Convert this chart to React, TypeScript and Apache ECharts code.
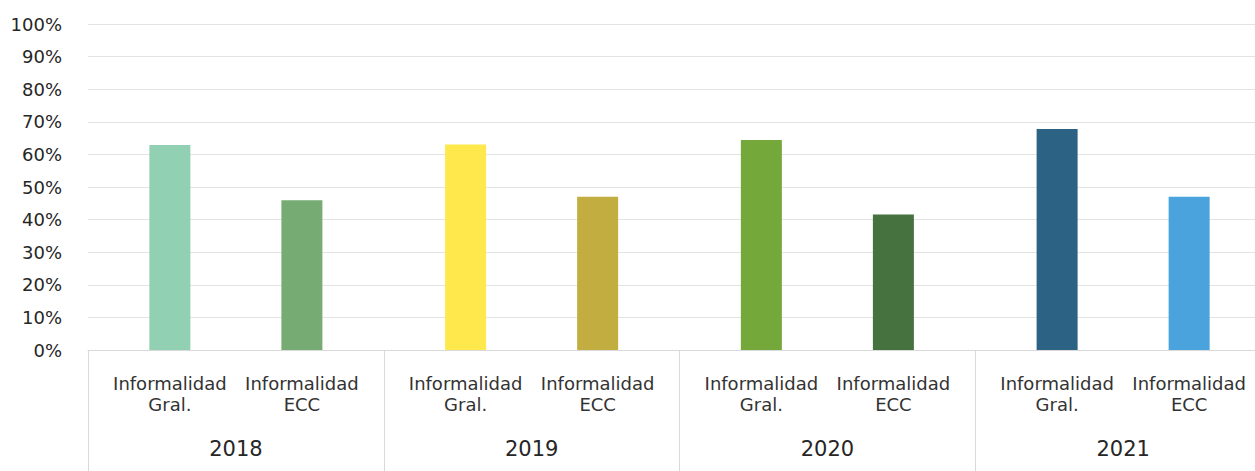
import React, { useEffect, useRef } from "react";
import * as echarts from "echarts";

const years = ["2018", "2019", "2020", "2021"];
const gralValues = [0.629, 0.63, 0.644, 0.678];
const eccValues = [0.459, 0.47, 0.416, 0.47];
const gralColors = ["#92d0b3", "#ffe84c", "#74a83b", "#2c6384"];
const eccColors = ["#76ab73", "#c2ae40", "#45723e", "#4aa3dc"];
const gralLabel = "Informalidad\nGral.";
const eccLabel = "Informalidad\nECC";
const yTicks = [0, 0.1, 0.2, 0.3, 0.4, 0.5, 0.6, 0.7, 0.8, 0.9, 1];

const FONT = "'DejaVu Sans', sans-serif";

export default function App() {
  const ref = useRef<HTMLDivElement>(null);
  useEffect(() => {
    if (!ref.current) return;
    const chart = echarts.init(ref.current, undefined, { renderer: "svg" });
    const subLabel = (text: string) => ({
      show: true,
      position: "bottom",
      distance: 23,
      formatter: text,
      fontFamily: FONT,
      fontSize: 18,
      lineHeight: 21,
      color: "#333333",
      align: "center",
    });
    chart.setOption({
      animation: false,
      grid: { left: 88, top: 24, right: 0, bottom: 121, containLabel: false },
      xAxis: {
        type: "category",
        data: years,
        boundaryGap: true,
        axisLine: { show: true, lineStyle: { color: "#d9d9d9", width: 1 } },
        axisTick: { show: true, interval: 0, length: 121, lineStyle: { color: "#d9d9d9" } },
        axisLabel: {
          interval: 0,
          margin: 88,
          fontFamily: FONT,
          fontSize: 21,
          color: "#262626",
        },
      },
      yAxis: {
        type: "value",
        min: 0,
        max: 1,
        interval: 0.1,
        axisLine: { show: false },
        axisTick: { show: false },
        splitLine: { lineStyle: { color: "#e3e3e3", width: 1 } },
        axisLabel: {
          margin: 26,
          fontFamily: FONT,
          fontSize: 18,
          color: "#262626",
          formatter: (v: number) => {
            const t = yTicks.find((x) => Math.abs(x - v) < 1e-6);
            return Math.round((t ?? v) * 100) + "%";
          },
        },
      },
      series: [
        {
          name: "Informalidad Gral.",
          type: "bar",
          barWidth: 41,
          barGap: "222%",
          data: gralValues.map((v, i) => ({ value: v, itemStyle: { color: gralColors[i] } })),
          label: subLabel(gralLabel),
        },
        {
          name: "Informalidad ECC",
          type: "bar",
          barWidth: 41,
          barGap: "222%",
          data: eccValues.map((v, i) => ({ value: v, itemStyle: { color: eccColors[i] } })),
          label: subLabel(eccLabel),
        },
      ],
    });
    return () => chart.dispose();
  }, []);
  return (
    <div
      style={{ position: "fixed", left: 0, top: 0, width: 1255, height: 471, overflow: "hidden", background: "#ffffff" }}
    >
      <div ref={ref} style={{ width: 1271, height: 471 }} />
    </div>
  );
}
